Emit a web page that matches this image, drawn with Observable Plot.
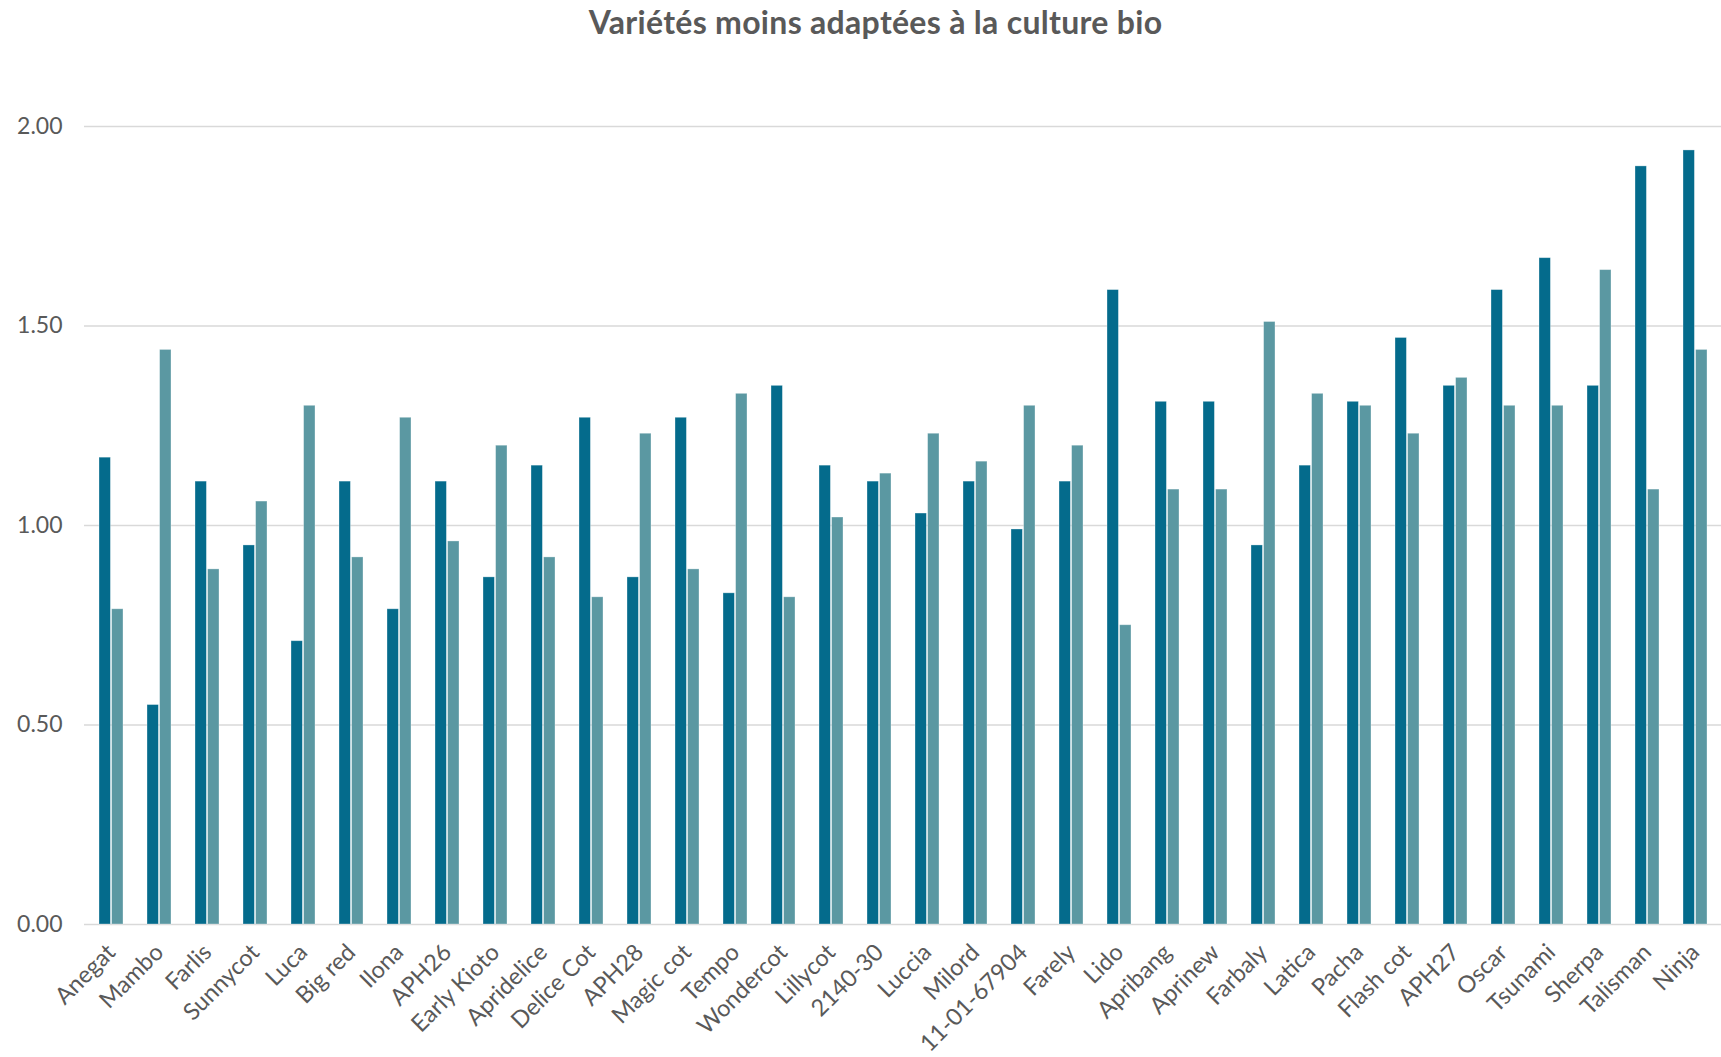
<!DOCTYPE html>
<html>
<head>
<meta charset="utf-8">
<script src="https://cdn.jsdelivr.net/npm/d3@7"></script>
<script src="https://cdn.jsdelivr.net/npm/@observablehq/plot@0.6"></script>
<style>
  html, body { margin: 0; padding: 0; background: #fff; overflow: hidden; }
  #title {
    width: 1721px; height: 50px; box-sizing: border-box;
    padding-left: 30px; text-align: center;
    font: bold 32px Lato, "Open Sans", sans-serif; color: #595959;
    line-height: 44px; letter-spacing: 0.3px;
  }
  svg { display: block; }
</style>
</head>
<body>
<div id="title">Variétés moins adaptées à la culture bio</div>
<div id="chart"></div>
<script>
// Apricot varieties and their two scores
const varieties = ["Anegat", "Mambo", "Farlis", "Sunnycot", "Luca", "Big red", "Ilona", "APH26",
  "Early Kioto", "Apridelice", "Delice Cot", "APH28", "Magic cot", "Tempo", "Wondercot",
  "Lillycot", "2140-30", "Luccia", "Milord", "11-01-67904", "Farely", "Lido", "Apribang",
  "Aprinew", "Farbaly", "Latica", "Pacha", "Flash cot", "APH27", "Oscar", "Tsunami",
  "Sherpa", "Talisman", "Ninja"];

const seriesA = [1.17, 0.55, 1.11, 0.95, 0.71, 1.11, 0.79, 1.11, 0.87, 1.15, 1.27, 0.87, 1.27,
  0.83, 1.35, 1.15, 1.11, 1.03, 1.11, 0.99, 1.11, 1.59, 1.31, 1.31, 0.95, 1.15, 1.31, 1.47,
  1.35, 1.59, 1.67, 1.35, 1.90, 1.94];

const seriesB = [0.79, 1.44, 0.89, 1.06, 1.30, 0.92, 1.27, 0.96, 1.20, 0.92, 0.82, 1.23, 0.89,
  1.33, 0.82, 1.02, 1.13, 1.23, 1.16, 1.30, 1.20, 0.75, 1.09, 1.09, 1.51, 1.33, 1.30, 1.23,
  1.37, 1.30, 1.30, 1.64, 1.09, 1.44];

const yTicks = [0, 0.5, 1, 1.5, 2];

const rows = varieties.map((name, i) => ({name, a: seriesA[i], b: seriesB[i]}));

const colorA = "#046B8C";
const colorB = "#5B98A2";
const textColor = "#595959";

const chart = Plot.plot({
  width: 1721,
  height: 1007,
  marginLeft: 84,
  marginRight: 0,
  marginTop: 76,
  marginBottom: 133,
  style: {fontFamily: "Lato, 'Open Sans', sans-serif", color: textColor, background: "#fff"},
  x: {domain: varieties, paddingInner: 0.5, paddingOuter: 0.25, label: null},
  y: {domain: [0, 2], label: null},
  marks: [
    Plot.ruleY(yTicks, {stroke: "#D9D9D9", strokeWidth: 1.5}),
    Plot.barY(rows, {x: "name", y: "a", fill: colorA, insetRight: 12.6, stroke: "#fff", strokeOpacity: 0.4, strokeWidth: 0.8}),
    Plot.barY(rows, {x: "name", y: "b", fill: colorB, insetLeft: 12.6, stroke: "#fff", strokeOpacity: 0.4, strokeWidth: 0.8}),
    Plot.axisY({ticks: yTicks, tickFormat: d3.format(".2f"), tickSize: 0, tickPadding: 22,
      fontSize: 23, fill: textColor, label: null}),
    Plot.axisX({tickRotate: -45, tickSize: 0, tickPadding: 24, fontSize: 23.5,
      fill: textColor, label: null})
  ]
});
document.getElementById("chart").appendChild(chart);
</script>
</body>
</html>
